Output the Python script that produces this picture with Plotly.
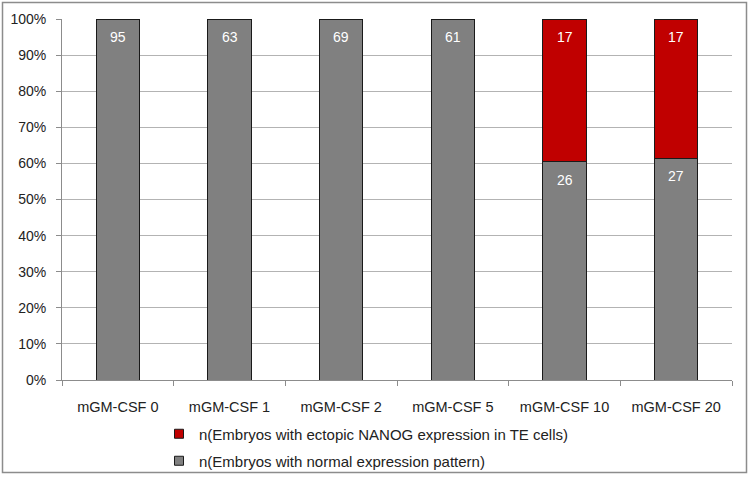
import plotly.graph_objects as go

categories = ["mGM-CSF 0", "mGM-CSF 1", "mGM-CSF 2", "mGM-CSF 5", "mGM-CSF 10", "mGM-CSF 20"]
normal_counts = [95, 63, 69, 61, 26, 27]
ectopic_counts = [0, 0, 0, 0, 17, 17]
name_normal = "n(Embryos with normal expression pattern)"
name_ectopic = "n(Embryos with ectopic NANOG expression in TE cells)"
y_ticks = [0, 10, 20, 30, 40, 50, 60, 70, 80, 90, 100]
y_tick_labels = [f"{v}%" for v in y_ticks]

W, H = 750, 484
L, R, T, B = 62, 18, 19, 104
pw, ph = W - L - R, H - T - B

def px_x(p):
    return (p - L) / pw

def px_y(p):
    return (H - B - p) / ph

FAM = "Liberation Sans, Arial, sans-serif"
font = dict(family=FAM, size=14.5, color="#222222")
legfont = dict(family=FAM, size=15, color="#222222")
yfont = dict(family=FAM, size=14, color="#222222")
barfont = dict(family=FAM, size=14, color="white")

GRAY, RED, EDGE = "#808080", "#c00000", "#1a1a1a"

fig = go.Figure()
fig.add_trace(go.Bar(
    x=categories, y=normal_counts, name=name_normal,
    marker=dict(color=GRAY, line=dict(color=EDGE, width=1)),
    width=0.39, showlegend=False, hoverinfo="skip",
))
fig.add_trace(go.Bar(
    x=categories, y=ectopic_counts, name=name_ectopic,
    marker=dict(color=RED, line=dict(color=EDGE, width=1)),
    width=0.39, showlegend=False, hoverinfo="skip",
))
# legend entries (small square swatches)
fig.add_trace(go.Scatter(
    x=[None], y=[None], mode="markers", name=name_ectopic, legend="legend",
    marker=dict(symbol="square", size=9, color=RED, line=dict(color=EDGE, width=1)),
))
fig.add_trace(go.Scatter(
    x=[None], y=[None], mode="markers", name=name_normal, legend="legend2",
    marker=dict(symbol="square", size=9, color=GRAY, line=dict(color=EDGE, width=1)),
))

# value labels at the top of each segment (percent scale)
annotations = []
for cat, n, e in zip(categories, normal_counts, ectopic_counts):
    tot = n + e
    for top, val in ((n / tot * 100, n), (100.0, e)):
        if val:
            annotations.append(dict(
                x=cat, y=top, xref="x", yref="y", text=str(val), showarrow=False,
                yanchor="top", yshift=-8, font=barfont,
            ))

fig.update_layout(
    width=W, height=H,
    margin=dict(l=L, r=R, t=T, b=B, autoexpand=False),
    barmode="stack", barnorm="percent",
    paper_bgcolor="white", plot_bgcolor="white",
    font=font,
    annotations=annotations,
    xaxis=dict(
        showline=True, linecolor="#8c8c8c", linewidth=1,
        ticks="outside", tickson="boundaries", ticklen=5, tickcolor="#8c8c8c",
        showgrid=False, tickfont=font, ticklabelstandoff=14, automargin=False,
    ),
    yaxis=dict(
        range=[0, 100], tickmode="array", tickvals=y_ticks, ticktext=y_tick_labels,
        showline=True, linecolor="#8c8c8c", linewidth=1,
        ticks="outside", ticklen=5, tickcolor="#8c8c8c",
        showgrid=True, gridcolor="#b3b3b3", gridwidth=1,
        zeroline=False, tickfont=yfont, ticklabelstandoff=7, automargin=False,
    ),
    legend=dict(x=px_x(159), y=px_y(434), xanchor="left", yanchor="middle",
                font=legfont, bgcolor="rgba(0,0,0,0)", itemwidth=30),
    legend2=dict(x=px_x(159), y=px_y(461), xanchor="left", yanchor="middle",
                 font=legfont, bgcolor="rgba(0,0,0,0)", itemwidth=30),
    showlegend=True,
    hovermode=False,
    shapes=[dict(
        type="rect", xref="paper", yref="paper",
        x0=px_x(2.5), x1=px_x(746.5), y0=px_y(472.5), y1=px_y(2.5),
        line=dict(color="#8c8c8c", width=1.5), layer="below",
    )],
)

fig.write_html("out.html", config={"displayModeBar": False},
               post_script="document.body.style.margin='0';")
